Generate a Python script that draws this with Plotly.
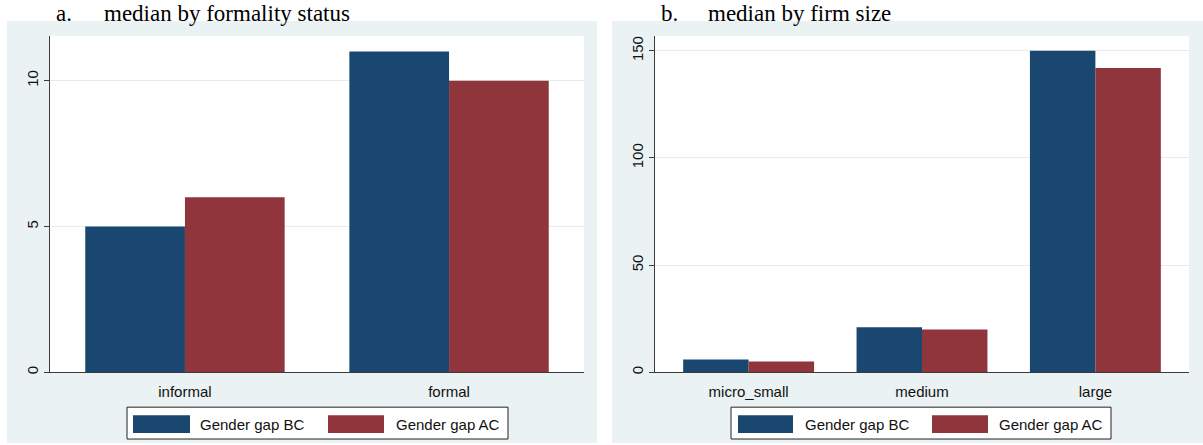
import plotly.graph_objects as go

# ---- data ----
formality_categories = ["informal", "formal"]
formality_bc = [5, 11]
formality_ac = [6, 10]

size_categories = ["micro_small", "medium", "large"]
size_bc = [6, 21, 150]
size_ac = [5, 20, 142]

series_names = ["Gender gap BC", "Gender gap AC"]
panel_titles = [("a.", "median by formality status"), ("b.", "median by firm size")]

# ---- style ----
W, H = 1203, 445
BC_COLOR = "#1a476f"
AC_COLOR = "#90353b"
BG = "#EAF2F3"
GRID = "#E4ECEE"
AXIS = "#3c3c3c"
SANS = "Liberation Sans, Arial, sans-serif"
SERIF = "Liberation Serif, Times New Roman, serif"


def px(x):
    return x / W


def py(y):
    return 1 - y / H


fig = go.Figure()

fig.add_trace(go.Bar(x=formality_categories, y=formality_bc, name=series_names[0],
                     marker=dict(color=BC_COLOR, line=dict(width=0)),
                     xaxis="x", yaxis="y", showlegend=False))
fig.add_trace(go.Bar(x=formality_categories, y=formality_ac, name=series_names[1],
                     marker=dict(color=AC_COLOR, line=dict(width=0)),
                     xaxis="x", yaxis="y", showlegend=False))
fig.add_trace(go.Bar(x=size_categories, y=size_bc, name=series_names[0],
                     marker=dict(color=BC_COLOR, line=dict(width=0)),
                     xaxis="x2", yaxis="y2", showlegend=False))
fig.add_trace(go.Bar(x=size_categories, y=size_ac, name=series_names[1],
                     marker=dict(color=AC_COLOR, line=dict(width=0)),
                     xaxis="x2", yaxis="y2", showlegend=False))

top_px, bottom_px = 36, 374
panels = [
    dict(xd=(50, 584), bg=(7, 597), xr=[-0.511, 1.511], yr=[0, 11.54], dt=5,
         legend=(127, 508, 133, 190, 198, 328, 384, 394), title_x=(55, 103)),
    dict(xd=(655, 1189), bg=(612, 1203), xr=[-0.54, 2.54], yr=[0, 157.0], dt=50,
         legend=(731, 1111, 738, 793, 803, 932, 988, 997), title_x=(660, 707)),
]

shapes = []
annotations = []
layout_axes = {}
for i, p in enumerate(panels):
    sfx = "" if i == 0 else str(i + 1)
    # panel background
    shapes.append(dict(type="rect", xref="paper", yref="paper", layer="below",
                       x0=px(p["bg"][0]), x1=px(p["bg"][1]), y0=py(445), y1=py(21),
                       fillcolor=BG, line=dict(width=0)))
    # white plot region
    shapes.append(dict(type="rect", xref="paper", yref="paper", layer="below",
                       x0=px(p["xd"][0]), x1=px(p["xd"][1]), y0=py(bottom_px), y1=py(top_px),
                       fillcolor="white", line=dict(width=0)))
    layout_axes["xaxis" + sfx] = dict(
        domain=[px(p["xd"][0]), px(p["xd"][1])], range=p["xr"], anchor="y" + sfx,
        showline=True, linecolor=AXIS, linewidth=1.3, ticks="", showgrid=False,
        zeroline=False, tickfont=dict(family=SANS, size=15, color="#111"),
        ticklabelstandoff=6, fixedrange=True)
    layout_axes["yaxis" + sfx] = dict(
        domain=[py(bottom_px), py(top_px)], range=p["yr"], anchor="x" + sfx,
        showline=True, linecolor=AXIS, linewidth=1.3, ticks="outside", ticklen=5,
        tickcolor=AXIS, tickwidth=1.3, dtick=p["dt"], tick0=0, tickangle=-90,
        showgrid=True, gridcolor=GRID, gridwidth=1, zeroline=False,
        tickfont=dict(family=SANS, size=15, color="#111"), fixedrange=True)
    # titles
    for txt, tx in [(panel_titles[i][0], p["title_x"][0]), (panel_titles[i][1], p["title_x"][1])]:
        annotations.append(dict(text=txt, xref="paper", yref="paper",
                                x=px(tx), y=1.0, xanchor="left", yanchor="top",
                                borderpad=0,
                                showarrow=False, font=dict(family=SERIF, size=23, color="#000")))
    # legend
    bx0, bx1, s1a, s1b, t1, s2a, s2b, t2 = p["legend"]
    shapes.append(dict(type="rect", xref="paper", yref="paper",
                       x0=px(bx0), x1=px(bx1), y0=py(441), y1=py(409),
                       fillcolor="white", line=dict(color="#222", width=1)))
    for (sa, sb, tx, col, name) in [(s1a, s1b, t1, BC_COLOR, series_names[0]),
                                    (s2a, s2b, t2, AC_COLOR, series_names[1])]:
        shapes.append(dict(type="rect", xref="paper", yref="paper",
                           x0=px(sa), x1=px(sb), y0=py(435), y1=py(417),
                           fillcolor=col, line=dict(width=0)))
        annotations.append(dict(text=name, xref="paper", yref="paper",
                                x=px(tx), y=py(426), xanchor="left", yanchor="middle",
                                showarrow=False, font=dict(family=SANS, size=15, color="#111")))

fig.update_layout(
    width=W, height=H,
    margin=dict(l=0, r=0, t=0, b=0),
    paper_bgcolor="white", plot_bgcolor="rgba(0,0,0,0)",
    barmode="group", bargap=0.245, bargroupgap=0,
    shapes=shapes, annotations=annotations,
    **layout_axes,
)

fig.write_html("out.html", config={"displayModeBar": False},
               post_script="document.body.style.margin='0';document.body.style.overflow='hidden';")
